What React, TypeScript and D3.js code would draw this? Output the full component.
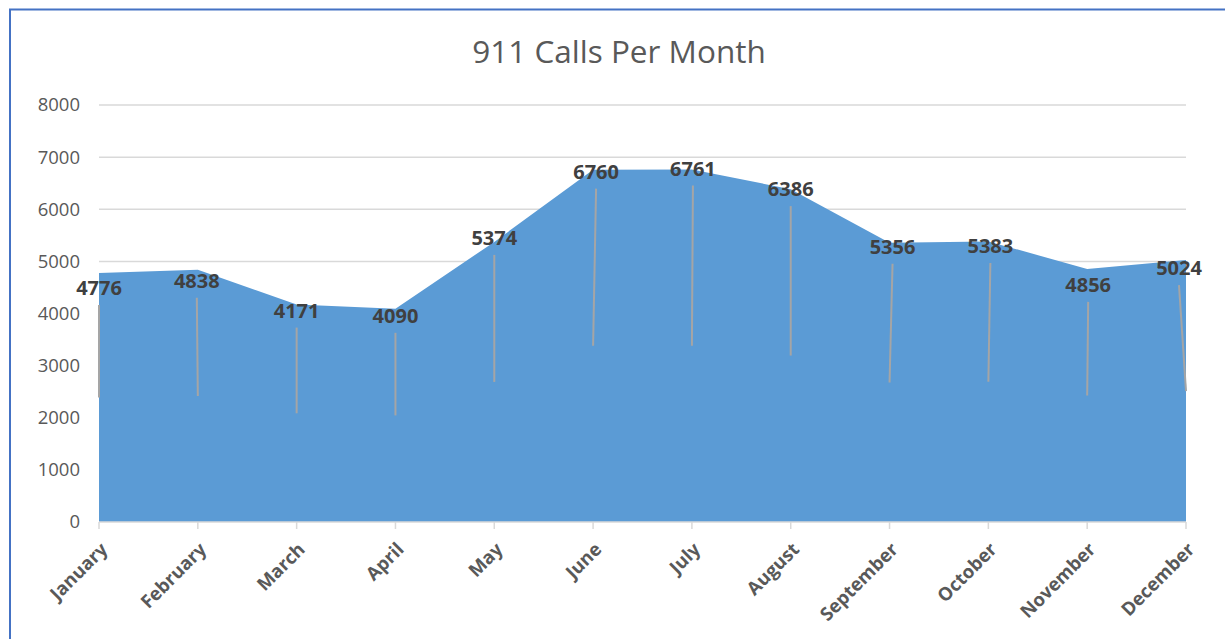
import React from "react";
import * as d3 from "d3";

const months = ["January","February","March","April","May","June","July","August","September","October","November","December"];
const calls = [4776, 4838, 4171, 4090, 5374, 6760, 6761, 6386, 5356, 5383, 4856, 5024];
const yTicks = [0, 1000, 2000, 3000, 4000, 5000, 6000, 7000, 8000];
const title = "911 Calls Per Month";

// label placement offsets (px) relative to each point, mimicking Excel's moved labels
const labelDx = [0, -1, 0, 0, 0, 3, 1, 0, 3, 2, 1, -7];
const labelDy = [15, 11, 6, 7, -4, 2, -1, 0, 4, 4.5, 16, 8];

const W = 1225, H = 639;
const FONT = "'Open Sans', 'Noto Sans', sans-serif";

export default function App() {
  const x = d3.scalePoint<string>().domain(months).range([99, 1186]);
  const y = d3.scaleLinear().domain([0, 8000]).range([522, 105]);
  const data = months.map((m, i) => ({ m, v: calls[i] }));
  const area = d3.area<{ m: string; v: number }>()
    .x(d => x(d.m)!)
    .y0(y(0))
    .y1(d => y(d.v));

  return (
    <svg width={W} height={H} style={{ position: "absolute", left: 0, top: 0, background: "#fff" }} fontFamily={FONT}>
      <rect x={0} y={0} width={W} height={H} fill="#fff" />
      <rect x={10} y={9.5} width={W + 20} height={H + 20} fill="none" stroke="#4472C4" strokeWidth={2} />
      <text x={619} y={63} textAnchor="middle" fontSize={31.5} fill="#595959">{title}</text>
      {yTicks.map(t => (
        <g key={t}>
          {t > 0 && <line x1={99} x2={1186} y1={y(t)} y2={y(t)} stroke="#D9D9D9" strokeWidth={1.5} />}
          <text x={80} y={y(t)} dy="0.35em" textAnchor="end" fontSize={18.5} fill="#595959">{t}</text>
        </g>
      ))}
      <path d={area(data)!} fill="#5B9BD5" />
      <line x1={99} x2={1186} y1={y(0)} y2={y(0)} stroke="#D9D9D9" strokeWidth={1.5} />
      {months.map(m => (
        <line key={m} x1={x(m)} x2={x(m)} y1={y(0)} y2={y(0) + 7} stroke="#D9D9D9" strokeWidth={1.5} />
      ))}
      {months.map(m => (
        <text key={m} transform={`translate(${x(m)! + 5},${y(0) + 24}) rotate(-45)`} textAnchor="end" dy="0.35em"
          fontSize={18.5} fontWeight={700} fill="#595959">{m}</text>
      ))}
      {data.map((d, i) => {
        const px = x(d.m)!;
        const py = y(d.v);
        const lx = px + labelDx[i];
        const ly = py + labelDy[i];
        return (
          <g key={d.m}>
            <line x1={lx} y1={ly + 17} x2={px} y2={y(d.v / 2)} stroke="#A5A5A5" strokeWidth={2} />
            <text x={lx} y={ly} dy="0.36em" textAnchor="middle" fontSize={20} fontWeight={700} fill="#404040">{d.v}</text>
          </g>
        );
      })}
    </svg>
  );
}
